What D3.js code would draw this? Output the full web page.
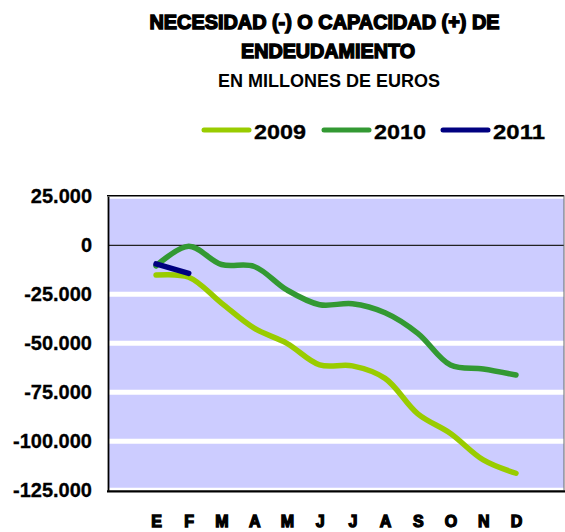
<!DOCTYPE html>
<html>
<head>
<meta charset="utf-8">
<script src="https://cdn.jsdelivr.net/npm/d3@7"></script>
<style>
  html, body { margin: 0; padding: 0; background: #fff; }
  svg { display: block; }
</style>
</head>
<body>
<svg id="chart" width="565" height="532"></svg>
<script>
// ---- data ----
const months = ["E", "F", "M", "A", "M", "J", "J", "A", "S", "O", "N", "D"];
const years = ["2009", "2010", "2011"];
const values2009 = [-15200, -16300, -29500, -42300, -50000, -61000, -61500, -67900, -86000, -96000, -109500, -116300];
const values2010 = [-10500, -500, -9800, -10800, -22800, -30300, -29800, -34400, -44900, -61100, -63100, -66200];
const values2011 = [-9500, -14300];
const yTicks = [25000, 0, -25000, -50000, -75000, -100000, -125000];
const titleLines = ["NECESIDAD (-) O CAPACIDAD (+) DE", "ENDEUDAMIENTO"];
const subtitle = "EN MILLONES DE EUROS";
const colors = ["#99cc00", "#339933", "#000080"];

const series = [values2009, values2010, values2011];

// ---- layout ----
const svg = d3.select("#chart");
const pL = 108, pR = 564, pT = 196.3, pB = 490.3;

const x = d3.scalePoint()
  .domain(d3.range(months.length))
  .range([pL, pR])
  .padding(1.467);

const y = d3.scaleLinear()
  .domain([-125000, 25000])
  .range([pB, pT]);

const loc = d3.formatLocale({decimal: ",", thousands: ".", grouping: [3], currency: ["", ""], minus: "-"});
const fmt = loc.format(",");

// background
svg.append("rect")
  .attr("x", pL).attr("y", pT)
  .attr("width", pR - pL).attr("height", pB - pT)
  .attr("fill", "#ccccff");

// gridlines
svg.append("g")
  .selectAll("line")
  .data(yTicks.filter(d => d !== 0))
  .join("line")
  .attr("x1", pL).attr("x2", pR)
  .attr("y1", d => y(d)).attr("y2", d => y(d))
  .attr("stroke", "#ffffff")
  .attr("stroke-width", 5);

// zero line
svg.append("line")
  .attr("x1", pL).attr("x2", pR)
  .attr("y1", y(0)).attr("y2", y(0))
  .attr("stroke", "#222")
  .attr("stroke-width", 1.2);

// borders
svg.append("line").attr("x1", pL - 1).attr("x2", pR).attr("y1", pT - 0.5).attr("y2", pT - 0.5)
  .attr("stroke", "#000").attr("stroke-width", 1.5);
svg.append("line").attr("x1", pR).attr("x2", pR).attr("y1", pT - 1).attr("y2", pB)
  .attr("stroke", "#666").attr("stroke-width", 1);
svg.append("line").attr("x1", pL - 1).attr("x2", pR + 1).attr("y1", pB + 1).attr("y2", pB + 1)
  .attr("stroke", "#000").attr("stroke-width", 2.2);

// y axis via d3.axisLeft
const yAxis = svg.append("g")
  .attr("transform", `translate(${pL},0)`)
  .call(d3.axisLeft(y).tickValues(yTicks).tickFormat(fmt).tickSize(0).tickPadding(16));
yAxis.select(".domain").attr("stroke", "#000").attr("stroke-width", 1.8);
yAxis.selectAll("text")
  .attr("font-family", "'Liberation Sans', Arial, sans-serif")
  .attr("font-weight", "bold")
  .attr("font-size", 20)
  .attr("fill", "#000")
  .attr("stroke", "#000")
  .attr("stroke-width", 0.3);

// x axis labels
const xAxis = svg.append("g")
  .attr("transform", `translate(0,${pB})`)
  .call(d3.axisBottom(x).tickFormat(i => months[i]).tickSize(0).tickPadding(25));
xAxis.select(".domain").remove();
xAxis.selectAll("text")
  .attr("font-family", "'Liberation Sans', Arial, sans-serif")
  .attr("font-weight", "bold")
  .attr("font-size", 16)
  .attr("fill", "#000")
  .attr("stroke", "#000")
  .attr("stroke-width", 1.3);

// lines
const line = d3.line()
  .x((d, i) => x(i))
  .y(d => y(d))
  .curve(d3.curveCatmullRom.alpha(0.5));

svg.append("g")
  .selectAll("path")
  .data(series)
  .join("path")
  .attr("d", d => line(d))
  .attr("fill", "none")
  .attr("stroke", (d, i) => colors[i])
  .attr("stroke-width", 5.5)
  .attr("stroke-linecap", "round")
  .attr("stroke-linejoin", "round");

// title
const titleFont = "'Liberation Sans', Arial, sans-serif";
svg.append("text")
  .attr("x", 324.5).attr("y", 29)
  .attr("text-anchor", "middle")
  .attr("font-family", titleFont).attr("font-weight", "bold").attr("font-size", 20)
  .attr("stroke", "#000").attr("stroke-width", 1.4)
  .attr("textLength", 350).attr("lengthAdjust", "spacingAndGlyphs")
  .text(titleLines[0]);
svg.append("text")
  .attr("x", 328).attr("y", 58.3)
  .attr("text-anchor", "middle")
  .attr("font-family", titleFont).attr("font-weight", "bold").attr("font-size", 20)
  .attr("stroke", "#000").attr("stroke-width", 1.4)
  .attr("textLength", 174).attr("lengthAdjust", "spacingAndGlyphs")
  .text(titleLines[1]);
svg.append("text")
  .attr("x", 329).attr("y", 86.7)
  .attr("text-anchor", "middle")
  .attr("font-family", titleFont).attr("font-weight", "bold").attr("font-size", 18)
  .text(subtitle);

// legend
const legendX = [204, 324, 443];
const lg = svg.append("g")
  .selectAll("g")
  .data(years)
  .join("g")
  .attr("transform", (d, i) => `translate(${legendX[i]},130)`);
lg.append("line")
  .attr("x1", 0).attr("x2", 45)
  .attr("stroke", (d, i) => colors[i])
  .attr("stroke-width", 5)
  .attr("stroke-linecap", "round");
lg.append("text")
  .attr("x", 50).attr("y", 9)
  .attr("font-family", titleFont).attr("font-weight", "bold").attr("font-size", 20)
  .attr("stroke", "#000").attr("stroke-width", 0.3)
  .attr("textLength", 52).attr("lengthAdjust", "spacingAndGlyphs")
  .text(d => d);
</script>
</body>
</html>
